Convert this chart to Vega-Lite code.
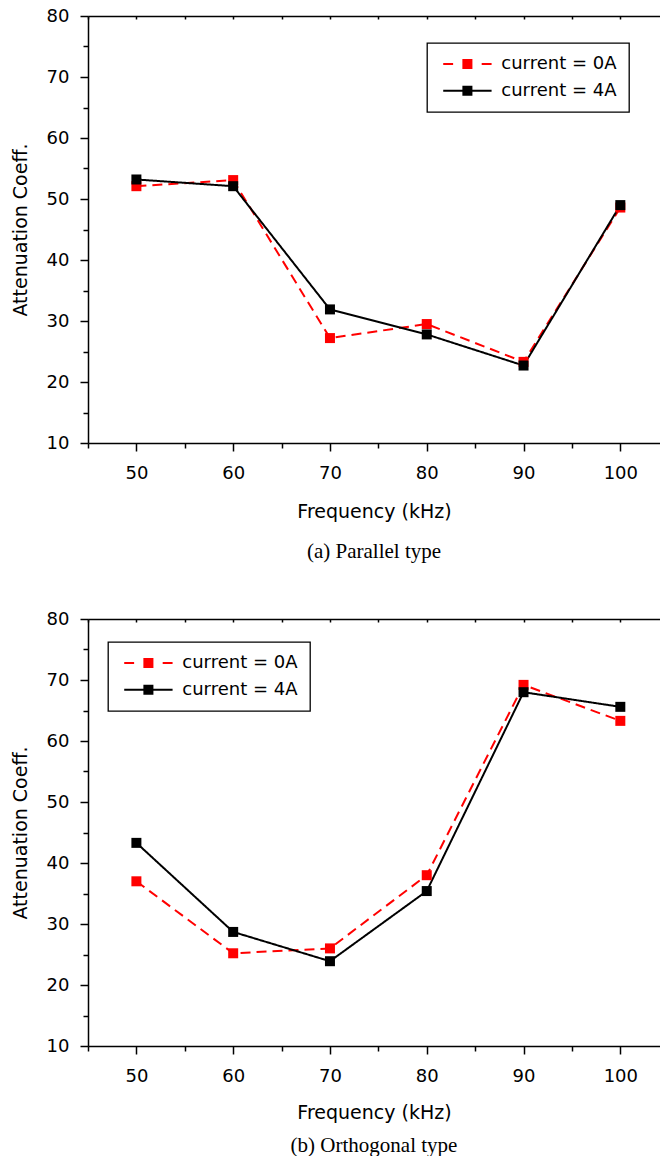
{
  "$schema": "https://vega.github.io/schema/vega-lite/v6.json",
  "padding": {"left": 11, "top": 7, "right": 0, "bottom": 0},
  "bounds": "flush",
  "spacing": 176,
  "background": "white",
  "datasets": {
    "parallel": [
      {"freq": 50, "series": "current = 0A", "value": 52.1},
      {"freq": 60, "series": "current = 0A", "value": 53.1},
      {"freq": 70, "series": "current = 0A", "value": 27.2},
      {"freq": 80, "series": "current = 0A", "value": 29.5},
      {"freq": 90, "series": "current = 0A", "value": 23.3},
      {"freq": 100, "series": "current = 0A", "value": 48.6},
      {"freq": 50, "series": "current = 4A", "value": 53.2},
      {"freq": 60, "series": "current = 4A", "value": 52.1},
      {"freq": 70, "series": "current = 4A", "value": 31.9},
      {"freq": 80, "series": "current = 4A", "value": 27.8},
      {"freq": 90, "series": "current = 4A", "value": 22.7},
      {"freq": 100, "series": "current = 4A", "value": 49.0}
    ],
    "orthogonal": [
      {"freq": 50, "series": "current = 0A", "value": 37.0},
      {"freq": 60, "series": "current = 0A", "value": 25.2},
      {"freq": 70, "series": "current = 0A", "value": 26.0},
      {"freq": 80, "series": "current = 0A", "value": 38.0},
      {"freq": 90, "series": "current = 0A", "value": 69.2},
      {"freq": 100, "series": "current = 0A", "value": 63.3},
      {"freq": 50, "series": "current = 4A", "value": 43.3},
      {"freq": 60, "series": "current = 4A", "value": 28.7},
      {"freq": 70, "series": "current = 4A", "value": 23.9},
      {"freq": 80, "series": "current = 4A", "value": 35.4},
      {"freq": 90, "series": "current = 4A", "value": 68.0},
      {"freq": 100, "series": "current = 4A", "value": 65.6}
    ]
  },
  "resolve": {
    "scale": {"color": "independent", "strokeDash": "independent", "shape": "independent", "fill": "independent", "stroke": "independent"},
    "legend": {"color": "independent", "strokeDash": "independent", "shape": "independent", "fill": "independent", "stroke": "independent"}
  },
  "vconcat": [
    {
      "width": 572,
      "height": 427,
      "data": {"name": "parallel"},
      "title": {"text": "(a) Parallel type", "orient": "bottom", "font": "Liberation Serif", "fontSize": 21, "fontWeight": "normal", "color": "black", "offset": 20},
      "resolve": {"axis": {"x": "independent"}},
      "layer": [
        {
          "mark": {"type": "line", "strokeWidth": 2},
          "encoding": {
            "x": {"field": "freq", "type": "quantitative", "scale": {"domain": [45, 104.1], "nice": false, "zero": false},
              "axis": {"orient": "bottom", "title": "Frequency (kHz)", "values": [45, 50, 55, 60, 65, 70, 75, 80, 85, 90, 95, 100],
                "labelExpr": "datum.value % 10 === 0 ? datum.label : ''",
                "tickSize": {"condition": {"test": "datum.value % 10 !== 0", "value": 5}, "value": 8},
                "labelPadding": 13, "titlePadding": 20, "grid": false}},
            "y": {"field": "value", "type": "quantitative", "scale": {"domain": [10, 80], "nice": false, "zero": false},
              "axis": {"title": "Attenuation Coeff.", "values": [10, 15, 20, 25, 30, 35, 40, 45, 50, 55, 60, 65, 70, 75, 80],
                "labelExpr": "datum.value % 10 === 0 ? datum.label : ''",
                "tickSize": {"condition": {"test": "datum.value % 10 !== 0", "value": 5}, "value": 8},
                "labelPadding": 11, "titlePadding": 16, "grid": false}},
            "color": {"field": "series", "type": "nominal", "scale": {"range": ["#ff0000", "#000000"]}, "legend": null},
            "strokeDash": {"field": "series", "type": "nominal", "scale": {"range": [[10, 6], [1, 0]]}, "legend": null},
            "order": {"field": "freq", "type": "quantitative"}
          }
        },
        {
          "mark": {"type": "point", "shape": "square", "filled": true, "size": 100, "opacity": 1},
          "encoding": {
            "x": {"field": "freq", "type": "quantitative",
              "axis": {"orient": "top", "title": null, "labels": false, "values": [45, 50, 55, 60, 65, 70, 75, 80, 85, 90, 95, 100], "tickSize": -3, "grid": false}},
            "y": {"field": "value", "type": "quantitative",
              "axis": {"title": "Attenuation Coeff.", "values": [10, 15, 20, 25, 30, 35, 40, 45, 50, 55, 60, 65, 70, 75, 80],
                "labelExpr": "datum.value % 10 === 0 ? datum.label : ''",
                "tickSize": {"condition": {"test": "datum.value % 10 !== 0", "value": 5}, "value": 8},
                "labelPadding": 11, "titlePadding": 16, "grid": false}},
            "color": {"field": "series", "type": "nominal", "legend": null}
          }
        },
        {
          "mark": {"type": "point", "filled": true, "opacity": 0, "strokeWidth": 2},
          "encoding": {
            "x": {"field": "freq", "type": "quantitative", "axis": null},
            "y": {"field": "value", "type": "quantitative",
              "axis": {"title": "Attenuation Coeff.", "values": [10, 15, 20, 25, 30, 35, 40, 45, 50, 55, 60, 65, 70, 75, 80],
                "labelExpr": "datum.value % 10 === 0 ? datum.label : ''",
                "tickSize": {"condition": {"test": "datum.value % 10 !== 0", "value": 5}, "value": 8},
                "labelPadding": 11, "titlePadding": 16, "grid": false}},
            "shape": {"field": "series", "type": "nominal", "scale": {"domain": ["current = 0A", "current = 4A"], "range": ["M-4.03,0H-2.38M2.38,0H4.03M-0.67,-0.67H0.67V0.67H-0.67Z", "M-4.03,0H4.03M-0.67,-0.67H0.67V0.67H-0.67Z"]},
              "legend": {"orient": "none", "legendX": 339, "legendY": 27, "title": null, "direction": "vertical", "padding": 12, "strokeColor": "black", "fillColor": "white", "cornerRadius": 0, "rowPadding": 8.8, "symbolSize": 144, "symbolOffset": 19.4, "symbolStrokeWidth": 2, "symbolOpacity": 1, "labelOffset": 24.9, "labelFont": "DejaVu Sans", "labelFontSize": 18, "labelColor": "black", "labelLimit": 0, "labelExpr": "datum.label + '  '"}},
            "fill": {"field": "series", "type": "nominal", "scale": {"domain": ["current = 0A", "current = 4A"], "range": ["#ff0000", "#000000"]},
              "legend": {"orient": "none", "legendX": 339, "legendY": 27, "title": null, "direction": "vertical", "padding": 12, "strokeColor": "black", "fillColor": "white", "cornerRadius": 0, "rowPadding": 8.8, "symbolSize": 144, "symbolOffset": 19.4, "symbolStrokeWidth": 2, "symbolOpacity": 1, "labelOffset": 24.9, "labelFont": "DejaVu Sans", "labelFontSize": 18, "labelColor": "black", "labelLimit": 0, "labelExpr": "datum.label + '  '"}},
            "stroke": {"field": "series", "type": "nominal", "scale": {"domain": ["current = 0A", "current = 4A"], "range": ["#ff0000", "#000000"]},
              "legend": {"orient": "none", "legendX": 339, "legendY": 27, "title": null, "direction": "vertical", "padding": 12, "strokeColor": "black", "fillColor": "white", "cornerRadius": 0, "rowPadding": 8.8, "symbolSize": 144, "symbolOffset": 19.4, "symbolStrokeWidth": 2, "symbolOpacity": 1, "labelOffset": 24.9, "labelFont": "DejaVu Sans", "labelFontSize": 18, "labelColor": "black", "labelLimit": 0, "labelExpr": "datum.label + '  '"}}
          }
        }
      ]
    },
    {
      "width": 572,
      "height": 427,
      "data": {"name": "orthogonal"},
      "title": {"text": "(b) Orthogonal type", "orient": "bottom", "font": "Liberation Serif", "fontSize": 21, "fontWeight": "normal", "color": "black", "offset": 13},
      "resolve": {"axis": {"x": "independent"}},
      "layer": [
        {
          "mark": {"type": "line", "strokeWidth": 2},
          "encoding": {
            "x": {"field": "freq", "type": "quantitative", "scale": {"domain": [45, 104.1], "nice": false, "zero": false},
              "axis": {"orient": "bottom", "title": "Frequency (kHz)", "values": [45, 50, 55, 60, 65, 70, 75, 80, 85, 90, 95, 100],
                "labelExpr": "datum.value % 10 === 0 ? datum.label : ''",
                "tickSize": {"condition": {"test": "datum.value % 10 !== 0", "value": 5}, "value": 8},
                "labelPadding": 13, "titlePadding": 18, "grid": false}},
            "y": {"field": "value", "type": "quantitative", "scale": {"domain": [10, 80], "nice": false, "zero": false},
              "axis": {"title": "Attenuation Coeff.", "values": [10, 15, 20, 25, 30, 35, 40, 45, 50, 55, 60, 65, 70, 75, 80],
                "labelExpr": "datum.value % 10 === 0 ? datum.label : ''",
                "tickSize": {"condition": {"test": "datum.value % 10 !== 0", "value": 5}, "value": 8},
                "labelPadding": 11, "titlePadding": 16, "grid": false}},
            "color": {"field": "series", "type": "nominal", "scale": {"range": ["#ff0000", "#000000"]}, "legend": null},
            "strokeDash": {"field": "series", "type": "nominal", "scale": {"range": [[10, 6], [1, 0]]}, "legend": null},
            "order": {"field": "freq", "type": "quantitative"}
          }
        },
        {
          "mark": {"type": "point", "shape": "square", "filled": true, "size": 100, "opacity": 1},
          "encoding": {
            "x": {"field": "freq", "type": "quantitative",
              "axis": {"orient": "top", "title": null, "labels": false, "values": [45, 50, 55, 60, 65, 70, 75, 80, 85, 90, 95, 100], "tickSize": -3, "grid": false}},
            "y": {"field": "value", "type": "quantitative",
              "axis": {"title": "Attenuation Coeff.", "values": [10, 15, 20, 25, 30, 35, 40, 45, 50, 55, 60, 65, 70, 75, 80],
                "labelExpr": "datum.value % 10 === 0 ? datum.label : ''",
                "tickSize": {"condition": {"test": "datum.value % 10 !== 0", "value": 5}, "value": 8},
                "labelPadding": 11, "titlePadding": 16, "grid": false}},
            "color": {"field": "series", "type": "nominal", "legend": null}
          }
        },
        {
          "mark": {"type": "point", "filled": true, "opacity": 0, "strokeWidth": 2},
          "encoding": {
            "x": {"field": "freq", "type": "quantitative", "axis": null},
            "y": {"field": "value", "type": "quantitative",
              "axis": {"title": "Attenuation Coeff.", "values": [10, 15, 20, 25, 30, 35, 40, 45, 50, 55, 60, 65, 70, 75, 80],
                "labelExpr": "datum.value % 10 === 0 ? datum.label : ''",
                "tickSize": {"condition": {"test": "datum.value % 10 !== 0", "value": 5}, "value": 8},
                "labelPadding": 11, "titlePadding": 16, "grid": false}},
            "shape": {"field": "series", "type": "nominal", "scale": {"domain": ["current = 0A", "current = 4A"], "range": ["M-4.03,0H-2.38M2.38,0H4.03M-0.67,-0.67H0.67V0.67H-0.67Z", "M-4.03,0H4.03M-0.67,-0.67H0.67V0.67H-0.67Z"]},
              "legend": {"orient": "none", "legendX": 20, "legendY": 23, "title": null, "direction": "vertical", "padding": 12, "strokeColor": "black", "fillColor": "white", "cornerRadius": 0, "rowPadding": 8.8, "symbolSize": 144, "symbolOffset": 19.4, "symbolStrokeWidth": 2, "symbolOpacity": 1, "labelOffset": 24.9, "labelFont": "DejaVu Sans", "labelFontSize": 18, "labelColor": "black", "labelLimit": 0, "labelExpr": "datum.label + '  '"}},
            "fill": {"field": "series", "type": "nominal", "scale": {"domain": ["current = 0A", "current = 4A"], "range": ["#ff0000", "#000000"]},
              "legend": {"orient": "none", "legendX": 20, "legendY": 23, "title": null, "direction": "vertical", "padding": 12, "strokeColor": "black", "fillColor": "white", "cornerRadius": 0, "rowPadding": 8.8, "symbolSize": 144, "symbolOffset": 19.4, "symbolStrokeWidth": 2, "symbolOpacity": 1, "labelOffset": 24.9, "labelFont": "DejaVu Sans", "labelFontSize": 18, "labelColor": "black", "labelLimit": 0, "labelExpr": "datum.label + '  '"}},
            "stroke": {"field": "series", "type": "nominal", "scale": {"domain": ["current = 0A", "current = 4A"], "range": ["#ff0000", "#000000"]},
              "legend": {"orient": "none", "legendX": 20, "legendY": 23, "title": null, "direction": "vertical", "padding": 12, "strokeColor": "black", "fillColor": "white", "cornerRadius": 0, "rowPadding": 8.8, "symbolSize": 144, "symbolOffset": 19.4, "symbolStrokeWidth": 2, "symbolOpacity": 1, "labelOffset": 24.9, "labelFont": "DejaVu Sans", "labelFontSize": 18, "labelColor": "black", "labelLimit": 0, "labelExpr": "datum.label + '  '"}}
          }
        }
      ]
    }
  ],
  "config": {
    "view": {"stroke": null},
    "axis": {
      "domainColor": "black", "domainWidth": 1.5, "tickColor": "black", "tickWidth": 1.5,
      "labelFont": "DejaVu Sans", "labelFontSize": 18, "labelColor": "black",
      "titleFont": "DejaVu Sans", "titleFontSize": 19, "titleFontWeight": "normal", "titleColor": "black"
    },
    "legend": {"strokeWidth": 1.3}
  }
}
